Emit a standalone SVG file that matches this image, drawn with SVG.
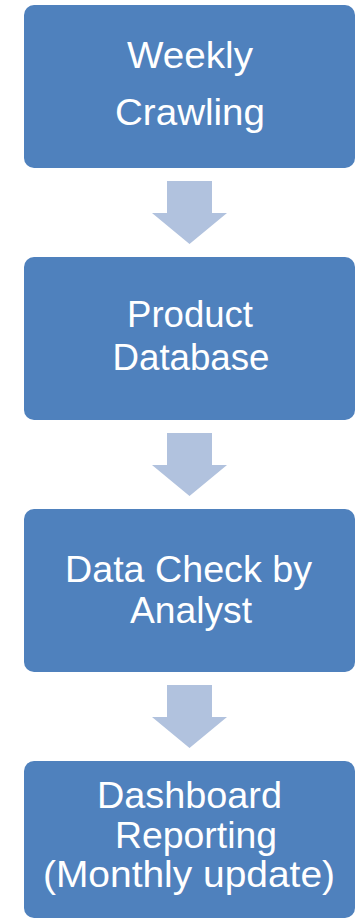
<svg xmlns="http://www.w3.org/2000/svg" width="355" height="920" viewBox="0 0 355 920">
<style>
.box{fill:#4F81BD;}
.arr{fill:#B1C2DE;}
.t{font-family:"Liberation Sans",Arial,sans-serif;font-size:37px;fill:#FFFFFF;text-anchor:middle;}
</style>
<rect width="355" height="920" fill="#FFFFFF"/>
<g id="connectors">
<path class="arr" d="M167,181 H212 V213 H227 L189.5,244 L152,213 H167 Z"/>
<path class="arr" d="M167,433 H212 V465 H227 L189.5,496 L152,465 H167 Z"/>
<path class="arr" d="M167,685 H212 V717 H227 L189.5,748 L152,717 H167 Z"/>
</g>
<g id="node1">
<rect class="box" x="24" y="5" width="331" height="163" rx="10"/>
<text class="t" x="190" y="68" textLength="126" lengthAdjust="spacingAndGlyphs">Weekly</text>
<text class="t" x="190" y="125" textLength="150" lengthAdjust="spacingAndGlyphs">Crawling</text>
</g>
<g id="node2">
<rect class="box" x="24" y="257" width="331" height="163" rx="10"/>
<text class="t" x="190" y="327" textLength="126" lengthAdjust="spacingAndGlyphs">Product</text>
<text class="t" x="191" y="370" textLength="157" lengthAdjust="spacingAndGlyphs">Database</text>
</g>
<g id="node3">
<rect class="box" x="24" y="509" width="331" height="163" rx="10"/>
<text class="t" x="188.5" y="582" textLength="247" lengthAdjust="spacingAndGlyphs">Data Check by</text>
<text class="t" x="191" y="623" textLength="122" lengthAdjust="spacingAndGlyphs">Analyst</text>
</g>
<g id="node4">
<rect class="box" x="24" y="761" width="331" height="157" rx="10"/>
<text class="t" x="189.5" y="808" textLength="185" lengthAdjust="spacingAndGlyphs">Dashboard</text>
<text class="t" x="196" y="848" textLength="162" lengthAdjust="spacingAndGlyphs">Reporting</text>
<text class="t" x="189" y="887" textLength="292" lengthAdjust="spacingAndGlyphs">(Monthly update)</text>
</g>
</svg>
